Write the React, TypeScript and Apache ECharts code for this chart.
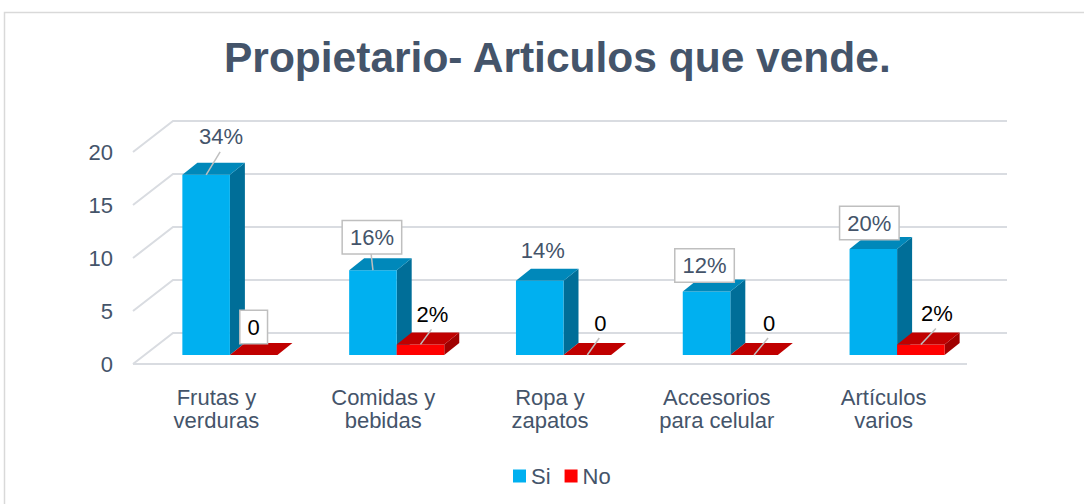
import { useEffect, useRef } from 'react';
import * as echarts from 'echarts';

const categories = ['Frutas y\nverduras', 'Comidas y\nbebidas', 'Ropa y\nzapatos', 'Accesorios\npara celular', 'Artículos\nvarios'];
const siValues = [17, 8, 7, 6, 10];
const noValues = [0, 1, 0, 0, 1];
const siLabels = ['34%', '16%', '14%', '12%', '20%'];
const noLabels = ['0', '2%', '0', '0', '2%'];
const yTicks = [0, 5, 10, 15, 20];
const seriesNames = ['Si', 'No'];

// label placement relative to the bar's front-top centre (layout, not data)
const siLabelLayout = [
  { dx: 15, dy: -38, box: false, leader: true },
  { dx: -1, dy: -33, box: true, leader: true },
  { dx: 3, dy: -30, box: false, leader: false },
  { dx: -2, dy: -26, box: true, leader: false },
  { dx: -4, dy: -26, box: true, leader: false },
];
const noLabelLayout = [
  { dx: 0, dy: -28, box: true, leader: false },
  { dx: 12, dy: -30, box: false, leader: true },
  { dx: 13, dy: -32, box: false, leader: true },
  { dx: 15, dy: -32, box: false, leader: true },
  { dx: 16, dy: -31, box: false, leader: true },
];

const FONT = '"Liberation Sans", Arial, sans-serif';
const TEXT = '#44546A';
const GRID_COLOR = '#D9DCE1';
const BACK_DX = 40;
const BACK_DY = -31;
const SHIFT_X = 13.5;
const SHIFT_Y = -9;
const DEPTH_X = 15;
const DEPTH_Y = -12;
const BAR_W = 0.285;

const COLORS = [
  { front: '#00B0F0', top: '#0088BA', side: '#006E98' },
  { front: '#FF0000', top: '#C00000', side: '#A00000' },
];

function barGeom(api: any, i: number, v: number, s: number) {
  const base = api.coord([i, 0]);
  const top = api.coord([i, v]);
  const w = api.size([1, 0])[0] * BAR_W;
  const cx = base[0] + SHIFT_X;
  const x0 = s === 0 ? cx - w : cx;
  const x1 = x0 + w;
  const yb = base[1] + SHIFT_Y;
  const yt = top[1] + SHIFT_Y;
  return { x0, x1, yb, yt, w };
}

function makeBarRender(s: number) {
  return (params: any, api: any) => {
    const i = api.value(0);
    const v = api.value(1);
    const { x0, x1, yb, yt } = barGeom(api, i, v, s);
    const c = COLORS[s];
    const children: any[] = [];
    if (yb - yt > 0.5) {
      children.push({
        type: 'polygon',
        shape: { points: [[x1, yt], [x1 + DEPTH_X, yt + DEPTH_Y], [x1 + DEPTH_X, yb + DEPTH_Y], [x1, yb]] },
        style: { fill: c.side },
      });
      children.push({
        type: 'rect',
        shape: { x: x0, y: yt, width: x1 - x0, height: yb - yt },
        style: { fill: c.front },
      });
    }
    children.push({
      type: 'polygon',
      shape: { points: [[x0, yt], [x1, yt], [x1 + DEPTH_X, yt + DEPTH_Y], [x0 + DEPTH_X, yt + DEPTH_Y]] },
      style: { fill: c.top },
    });
    return { type: 'group', children };
  };
}

function makeLabelRender(s: number, texts: string[], layout: any[], color: string) {
  return (params: any, api: any) => {
    const i = api.value(0);
    const v = api.value(1);
    const { x0, x1, yt } = barGeom(api, i, v, s);
    const fx = (x0 + x1) / 2;
    const L = layout[i];
    const lx = fx + L.dx;
    const ly = yt + L.dy;
    const children: any[] = [];
    if (L.leader) {
      children.push({
        type: 'line',
        shape: { x1: lx - 1, y1: ly + 15, x2: fx, y2: yt },
        style: { stroke: '#BFBFBF', lineWidth: 1.5 },
      });
    }
    const style: any = {
      text: texts[i],
      x: 0,
      y: 0,
      fill: color,
      fontSize: 22,
      fontFamily: FONT,
      align: 'center',
      verticalAlign: 'middle',
    };
    if (L.box) {
      style.backgroundColor = '#FFFFFF';
      style.borderColor = '#BFBFBF';
      style.borderWidth = 1.5;
      style.padding = [5, 7, 5, 7];
    }
    children.push({ type: 'text', x: lx, y: ly, style });
    return { type: 'group', children };
  };
}

function wallRender(params: any, api: any) {
  const v = api.value(1);
  const cs = params.coordSys;
  const left = cs.x;
  const right = cs.x + cs.width;
  const y = api.coord([0, v])[1];
  const children: any[] = [
    {
      type: 'polyline',
      shape: { points: [[left, y], [left + BACK_DX, y + BACK_DY], [right + BACK_DX, y + BACK_DY]] },
      style: { stroke: GRID_COLOR, lineWidth: 2, fill: 'none' },
    },
  ];
  if (v === 0) {
    children.push({
      type: 'line',
      shape: { x1: left, y1: y, x2: right, y2: y },
      style: { stroke: GRID_COLOR, lineWidth: 2 },
    });
  }
  return { type: 'group', children };
}

export default function App() {
  const ref = useRef<HTMLDivElement>(null);
  useEffect(() => {
    if (!ref.current) return;
    const chart = echarts.init(ref.current, null, { renderer: 'svg' });
    chart.setOption({
      animation: false,
      backgroundColor: '#FFFFFF',
      color: [COLORS[0].front, COLORS[1].front],
      title: {
        text: 'Propietario- Articulos que vende.',
        left: 219,
        top: 31,
        textStyle: { fontSize: 42.5, fontWeight: 'bold', color: TEXT, fontFamily: FONT },
      },
      graphic: [
        {
          type: 'rect',
          shape: { x: 4.5, y: 12.5, width: 1200, height: 600 },
          style: { fill: 'none', stroke: '#D9D9D9', lineWidth: 1.5 },
          silent: true,
        },
      ],
      legend: {
        data: seriesNames,
        left: 508,
        top: 460,
        icon: 'rect',
        itemWidth: 13,
        itemHeight: 13,
        itemGap: 14,
        textStyle: { fontSize: 22, color: TEXT, fontFamily: FONT },
      },
      grid: { left: 133, right: 117, top: 152, bottom: 140 },
      xAxis: {
        type: 'category',
        data: categories,
        axisLine: { show: false },
        axisTick: { show: false },
        axisLabel: { fontSize: 22, lineHeight: 23, color: TEXT, fontFamily: FONT, margin: 22, interval: 0 },
      },
      yAxis: {
        type: 'value',
        min: 0,
        max: 20,
        interval: 5,
        axisLine: { show: false },
        axisTick: { show: false },
        splitLine: { show: false },
        axisLabel: { fontSize: 22, color: TEXT, fontFamily: FONT, margin: 20 },
      },
      series: [
        {
          type: 'custom',
          name: 'walls',
          renderItem: wallRender,
          data: yTicks.map((t) => [0, t]),
          silent: true,
          z: 1,
        },
        {
          type: 'custom',
          name: seriesNames[0],
          renderItem: makeBarRender(0),
          itemStyle: { color: COLORS[0].front },
          data: siValues.map((v, i) => [i, v]),
          z: 2,
        },
        {
          type: 'custom',
          name: seriesNames[1],
          renderItem: makeBarRender(1),
          itemStyle: { color: COLORS[1].front },
          data: noValues.map((v, i) => [i, v]),
          z: 3,
        },
        {
          type: 'custom',
          name: 'siLabels',
          renderItem: makeLabelRender(0, siLabels, siLabelLayout, TEXT),
          data: siValues.map((v, i) => [i, v]),
          silent: true,
          z: 5,
        },
        {
          type: 'custom',
          name: 'noLabels',
          renderItem: makeLabelRender(1, noLabels, noLabelLayout, '#000000'),
          data: noValues.map((v, i) => [i, v]),
          silent: true,
          z: 5,
        },
      ],
    });
    return () => chart.dispose();
  }, []);
  return (
    <div
      ref={ref}
      style={{ position: 'fixed', left: 0, top: 0, width: 1084, height: 504 }}
    />
  );
}
